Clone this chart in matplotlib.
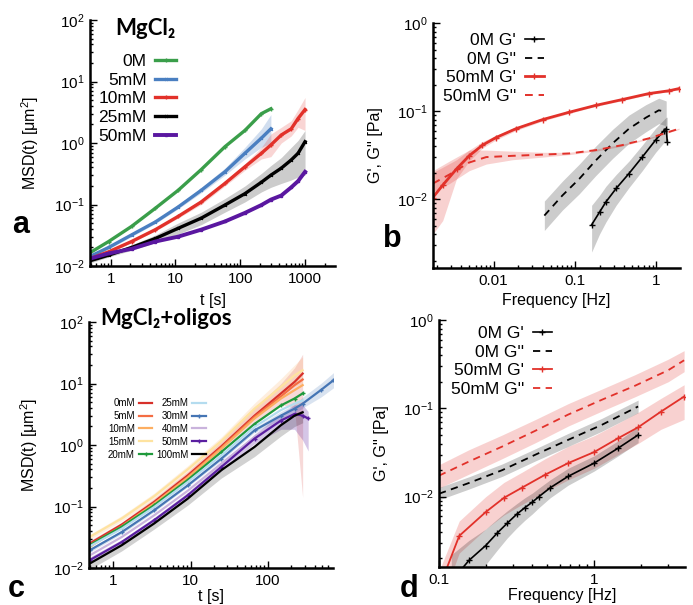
import matplotlib
matplotlib.use("Agg")
import matplotlib.pyplot as plt
from matplotlib.ticker import NullFormatter

plt.rcParams["font.family"] = ["Liberation Sans", "DejaVu Sans"]
plt.rcParams["mathtext.fontset"] = "custom"
plt.rcParams["mathtext.rm"] = "Liberation Sans"
plt.rcParams["mathtext.it"] = "Liberation Sans:italic"
plt.rcParams["mathtext.bf"] = "Liberation Sans:bold"
plt.rcParams["mathtext.default"] = "regular"

W, H = 693, 605

# ======================
# panel a : MgCl2
# ======================
t_short = [0.46, 0.93, 2.1, 4.9, 11, 25, 58, 118, 212, 297]
t_long = [0.46, 0.93, 2.1, 4.9, 11, 25, 58, 118, 212, 297, 430, 612, 780, 1000]
msd_0M = [0.016, 0.025, 0.044, 0.087, 0.17, 0.37, 0.87, 1.6, 3.0, 3.6]
msd_5mM = [0.014, 0.020, 0.032, 0.052, 0.091, 0.17, 0.34, 0.68, 1.2, 1.7]
msd_5mM_lo = [0.013, 0.019, 0.030, 0.049, 0.085, 0.155, 0.30, 0.55, 0.85, 1.0]
msd_5mM_hi = [0.015, 0.021, 0.034, 0.056, 0.098, 0.19, 0.39, 0.85, 1.7, 2.9]
msd_10mM = [0.013, 0.017, 0.025, 0.039, 0.064, 0.11, 0.22, 0.41, 0.68, 0.93, 1.35, 1.7, 2.5, 3.5]
msd_10mM_lo = [0.012, 0.016, 0.024, 0.037, 0.060, 0.10, 0.20, 0.36, 0.55, 0.60, 1.0, 1.3, 1.8, 1.6]
msd_10mM_hi = [0.014, 0.018, 0.026, 0.041, 0.068, 0.12, 0.24, 0.46, 0.85, 1.4, 1.8, 2.3, 3.5, 5.5]
msd_25mM = [0.012, 0.015, 0.020, 0.028, 0.041, 0.060, 0.098, 0.15, 0.23, 0.30, 0.39, 0.53, 0.68, 1.05]
msd_25mM_lo = [0.011, 0.014, 0.018, 0.024, 0.033, 0.047, 0.075, 0.11, 0.16, 0.19, 0.22, 0.25, 0.28, 0.30]
msd_25mM_hi = [0.013, 0.016, 0.022, 0.032, 0.050, 0.075, 0.125, 0.20, 0.32, 0.43, 0.58, 0.85, 1.1, 1.6]
msd_50mM = [0.013, 0.016, 0.019, 0.025, 0.030, 0.039, 0.053, 0.073, 0.098, 0.12, 0.14, 0.19, 0.24, 0.34]

# ======================
# panel b : G', G'' MgCl2
# ======================
f_b_gp50 = [0.00179, 0.00237, 0.0035, 0.0050, 0.0073, 0.0107, 0.0188, 0.040, 0.085, 0.18, 0.38, 0.81, 1.43, 1.9]
gp_50_b = [0.0104, 0.0144, 0.022, 0.031, 0.041, 0.050, 0.063, 0.080, 0.097, 0.116, 0.135, 0.158, 0.17, 0.18]
gp_50_b_lo = [0.0040, 0.0057, 0.017, 0.027, 0.038, 0.047, 0.060, 0.077, 0.094, 0.113, 0.131, 0.154, 0.166, 0.176]
gp_50_b_hi = [0.020, 0.023, 0.028, 0.036, 0.045, 0.053, 0.066, 0.083, 0.100, 0.119, 0.139, 0.162, 0.174, 0.185]
f_b_gpp50 = [0.00179, 0.00286, 0.0050, 0.0081, 0.0171, 0.040, 0.085, 0.18, 0.38, 0.81, 1.43, 1.9]
gpp_50_b = [0.015, 0.019, 0.026, 0.030, 0.031, 0.032, 0.033, 0.036, 0.041, 0.049, 0.058, 0.063]
gpp_50_b_lo = [0.012, 0.015, 0.021, 0.025, 0.028, 0.030, 0.032, 0.035, 0.040, 0.048, 0.057, 0.062]
gpp_50_b_hi = [0.021, 0.027, 0.036, 0.036, 0.035, 0.034, 0.034, 0.037, 0.042, 0.050, 0.059, 0.064]
f_b_gpp0 = [0.042, 0.070, 0.113, 0.18, 0.29, 0.46, 0.74, 1.07, 1.32]
gpp_0_b = [0.0065, 0.011, 0.017, 0.0275, 0.043, 0.063, 0.084, 0.102, 0.098]
gpp_0_b_lo = [0.0044, 0.0075, 0.0115, 0.0185, 0.029, 0.043, 0.058, 0.072, 0.068]
gpp_0_b_hi = [0.0095, 0.016, 0.025, 0.040, 0.062, 0.090, 0.118, 0.140, 0.130]
f_b_gp0 = [0.16, 0.20, 0.24, 0.32, 0.46, 0.67, 0.98, 1.24, 1.32, 1.36]
gp_0_b = [0.0051, 0.0071, 0.0093, 0.0132, 0.0195, 0.030, 0.047, 0.060, 0.063, 0.045]
gp_0_b_lo = [0.0025, 0.0040, 0.0055, 0.0085, 0.0135, 0.021, 0.034, 0.044, 0.046, 0.040]
gp_0_b_hi = [0.0085, 0.011, 0.014, 0.019, 0.027, 0.041, 0.064, 0.080, 0.085, 0.085]

# ======================
# panel c : MgCl2 + oligos
# ======================
t_c = [0.5, 1.3, 3.4, 9.2, 25, 67, 147, 220, 280]
t_c_30 = [0.5, 1.3, 3.4, 9.2, 25, 67, 147, 220, 280, 480, 700]
t_c_50 = [0.5, 1.3, 3.4, 9.2, 25, 67, 147, 220, 280, 330]
c_labels = ["0mM", "5mM", "10mM", "15mM", "20mM", "25mM", "30mM", "40mM", "50mM", "100mM"]
c_colors = ["#d7302a", "#f46d43", "#fdae61", "#fee3a0", "#1f9a3c",
            "#b4dcef", "#4575b4", "#c9b3dc", "#5a1fa0", "#000000"]
msd_c_0 = [0.025, 0.051, 0.119, 0.32, 0.95, 3.0, 6.9, 10.6, 14.5]
msd_c_5 = [0.0235, 0.048, 0.112, 0.30, 0.91, 2.86, 6.2, 9.4, 11.6]
msd_c_10 = [0.022, 0.047, 0.111, 0.295, 0.87, 2.7, 5.7, 7.8, 9.4]
msd_c_15 = [0.032, 0.064, 0.147, 0.40, 1.16, 3.9, 8.8, 13.6, 16.4]
msd_c_20 = [0.0235, 0.047, 0.105, 0.27, 0.77, 2.2, 4.4, 5.7, 6.9]
msd_c_25 = [0.0225, 0.0437, 0.098, 0.25, 0.68, 1.97, 3.7, 4.7, 5.3]
msd_c_30 = [0.0194, 0.0385, 0.087, 0.22, 0.60, 1.73, 3.0, 3.9, 4.7, 7.8, 11.3]
msd_c_40 = [0.016, 0.032, 0.072, 0.18, 0.50, 1.35, 2.5, 3.2, 3.0]
msd_c_50 = [0.0134, 0.0265, 0.060, 0.152, 0.44, 1.27, 2.5, 3.2, 3.0, 2.7]
msd_c_100 = [0.0118, 0.0235, 0.053, 0.134, 0.39, 0.93, 2.1, 3.0, 3.4]
msd_c_0_lo = [0.022, 0.046, 0.105, 0.28, 0.80, 2.3, 4.5, 4.0, 0.14]
msd_c_0_hi = [0.028, 0.056, 0.135, 0.37, 1.15, 4.0, 10, 18, 30]
msd_c_15_lo = [0.029, 0.058, 0.13, 0.35, 1.0, 3.2, 6.5, 9.0, 10]
msd_c_15_hi = [0.035, 0.071, 0.165, 0.46, 1.35, 4.8, 12, 20, 27]
msd_c_30_lo = [0.018, 0.036, 0.082, 0.21, 0.56, 1.6, 2.6, 3.3, 4.0, 6.0, 8.5]
msd_c_30_hi = [0.021, 0.041, 0.092, 0.23, 0.64, 1.9, 3.5, 4.6, 6.0, 10, 15]
msd_c_50_lo = [0.012, 0.024, 0.054, 0.135, 0.38, 1.05, 1.8, 1.8, 1.2, 0.8]
msd_c_50_hi = [0.015, 0.029, 0.066, 0.17, 0.50, 1.5, 3.2, 4.5, 4.5, 3.5]
msd_c_100_lo = [0.0095, 0.019, 0.043, 0.105, 0.29, 0.65, 1.4, 2.0, 2.3]
msd_c_100_hi = [0.013, 0.026, 0.058, 0.145, 0.42, 1.0, 2.3, 3.3, 3.7]

# ======================
# panel d : G', G'' oligos
# ======================
f_d_gpp50 = [0.1, 0.156, 0.256, 0.42, 0.68, 1.12, 1.83, 3.0, 3.8]
gpp_50_d = [0.0173, 0.025, 0.037, 0.056, 0.085, 0.125, 0.18, 0.27, 0.35]
gpp_50_d_lo = [0.0125, 0.018, 0.027, 0.041, 0.063, 0.093, 0.135, 0.20, 0.26]
gpp_50_d_hi = [0.023, 0.034, 0.050, 0.075, 0.113, 0.165, 0.24, 0.36, 0.45]
f_d_gpp0 = [0.1, 0.156, 0.256, 0.42, 0.68, 1.12, 1.92]
gpp_0_d = [0.0108, 0.0143, 0.020, 0.030, 0.044, 0.065, 0.105]
gpp_0_d_lo = [0.0092, 0.0122, 0.017, 0.0255, 0.037, 0.055, 0.089]
gpp_0_d_hi = [0.0127, 0.0168, 0.0235, 0.035, 0.052, 0.077, 0.124]
f_d_gp50 = [0.07, 0.135, 0.20, 0.262, 0.344, 0.485, 0.68, 1.0, 1.43, 1.92, 2.7, 3.8]
gp_50_d = [0.00018, 0.0036, 0.0067, 0.0097, 0.0127, 0.0178, 0.024, 0.032, 0.046, 0.061, 0.092, 0.136]
gp_50_d_lo = [0.0001, 0.0023, 0.0043, 0.0062, 0.0082, 0.0115, 0.0155, 0.021, 0.030, 0.040, 0.058, 0.075]
gp_50_d_hi = [0.0003, 0.0053, 0.010, 0.0145, 0.019, 0.027, 0.037, 0.049, 0.068, 0.090, 0.13, 0.185]
f_d_gp0 = [0.12, 0.156, 0.20, 0.238, 0.275, 0.316, 0.357, 0.40, 0.44, 0.52, 0.68, 1.0, 1.43, 1.92]
gp_0_d = [0.0011, 0.0019, 0.0028, 0.0039, 0.0050, 0.0063, 0.0075, 0.0087, 0.010, 0.0126, 0.017, 0.024, 0.0355, 0.050]
gp_0_d_lo = [0.0006, 0.0011, 0.0017, 0.0025, 0.0034, 0.0044, 0.0054, 0.0064, 0.0075, 0.0097, 0.0135, 0.0195, 0.029, 0.041]
gp_0_d_hi = [0.0022, 0.0032, 0.0043, 0.0056, 0.0069, 0.0083, 0.0097, 0.011, 0.0125, 0.0155, 0.021, 0.029, 0.043, 0.062]

RED = "#e2312a"
GREEN = "#3a9e4a"
BLUE = "#4a7fc1"
PURPLE = "#5a17a0"


def px_axes(fig, left, top, right, bottom):
    return fig.add_axes([left / W, 1 - bottom / H, (right - left) / W, (bottom - top) / H])


def style_ax(ax):
    ax.set_xscale("log")
    ax.set_yscale("log")
    for s in ["top", "right"]:
        ax.spines[s].set_visible(False)
    for s in ["left", "bottom"]:
        ax.spines[s].set_linewidth(1.8)
    ax.tick_params(which="both", direction="in", labelsize=11, width=1.0, pad=4)
    ax.tick_params(which="major", length=5)
    ax.tick_params(which="minor", length=2.5)
    ax.xaxis.set_minor_formatter(NullFormatter())
    ax.yaxis.set_minor_formatter(NullFormatter())


def legend_at(ax, fig, x, y, **kw):
    opts = dict(loc="upper right", bbox_to_anchor=(x / W, 1 - y / H),
                bbox_transform=fig.transFigure, frameon=False, markerfirst=False,
                borderpad=0, borderaxespad=0)
    opts.update(kw)
    return ax.legend(**opts)


fig = plt.figure(figsize=(W / 100, H / 100), dpi=100)

# ---- a ----
ax = px_axes(fig, 90, 20, 335, 266)
style_ax(ax)
ax.fill_between(t_short, msd_5mM_lo, msd_5mM_hi, color=BLUE, alpha=0.25, lw=0)
ax.fill_between(t_long, msd_10mM_lo, msd_10mM_hi, color=RED, alpha=0.2, lw=0)
ax.fill_between(t_long, msd_25mM_lo, msd_25mM_hi, color="black", alpha=0.2, lw=0)
ax.plot(t_short, msd_0M, color=GREEN, lw=2.4, marker="+", ms=2.5, label="0M")
ax.plot(t_short, msd_5mM, color=BLUE, lw=2.4, marker="x", ms=2, label="5mM")
ax.plot(t_long, msd_10mM, color=RED, lw=2.4, marker="+", ms=2.5, label="10mM")
ax.plot(t_long, msd_25mM, color="black", lw=2.4, marker="x", ms=2, label="25mM")
ax.plot(t_long, msd_50mM, color=PURPLE, lw=2.8, marker="s", ms=2, label="50mM")
ax.set_xlim(0.48, 2900)
ax.set_ylim(0.01, 100)
ax.set_xticks([1, 10, 100, 1000], labels=["1", "10", "100", "1000"])
ax.set_xlabel("t [s]", fontsize=11.5, labelpad=5)
ax.set_ylabel(r"MSD(t) [$\mu$m$^2$]", fontsize=11.5, labelpad=9)
legend_at(ax, fig, 176, 54, fontsize=12.5, handlelength=1.2, handletextpad=0.5, labelspacing=0.2)

# ---- b ----
ax = px_axes(fig, 433, 23, 680, 268)
style_ax(ax)
ax.fill_between(f_b_gp50, gp_50_b_lo, gp_50_b_hi, color=RED, alpha=0.22, lw=0)
ax.fill_between(f_b_gpp50, gpp_50_b_lo, gpp_50_b_hi, color=RED, alpha=0.22, lw=0)
ax.fill_between(f_b_gpp0, gpp_0_b_lo, gpp_0_b_hi, color="black", alpha=0.2, lw=0)
ax.fill_between(f_b_gp0, gp_0_b_lo, gp_0_b_hi, color="black", alpha=0.2, lw=0)
ax.plot(f_b_gp0, gp_0_b, color="black", lw=1.2, marker="+", ms=4, label="0M G'")
ax.plot(f_b_gpp0, gpp_0_b, color="black", lw=1.3, ls=(0, (4, 3)), label="0M G''")
ax.plot(f_b_gp50, gp_50_b, color=RED, lw=2.0, marker="+", ms=4, label="50mM G'")
ax.plot(f_b_gpp50, gpp_50_b, color=RED, lw=1.4, ls=(0, (4, 3)), label="50mM G''")
ax.set_xlim(0.0018, 1.95)
ax.set_ylim(0.00165, 1)
ax.set_xticks([0.01, 0.1, 1], labels=["0.01", "0.1", "1"])
ax.set_xlabel("Frequency [Hz]", fontsize=11.5, labelpad=4)
ax.set_ylabel("G', G'' [Pa]", fontsize=11.5, labelpad=10)
legend_at(ax, fig, 544, 33, fontsize=12.5, handlelength=1.1, handletextpad=0.5, labelspacing=0.2)

# ---- c ----
ax = px_axes(fig, 89, 322, 333, 568)
style_ax(ax)
ax.fill_between(t_c, msd_c_0_lo, msd_c_0_hi, color=c_colors[0], alpha=0.18, lw=0)
ax.fill_between(t_c, msd_c_15_lo, msd_c_15_hi, color="#fdae61", alpha=0.2, lw=0)
ax.fill_between(t_c_30, msd_c_30_lo, msd_c_30_hi, color=c_colors[6], alpha=0.2, lw=0)
ax.fill_between(t_c_50, msd_c_50_lo, msd_c_50_hi, color=c_colors[8], alpha=0.25, lw=0)
ax.fill_between(t_c, msd_c_100_lo, msd_c_100_hi, color="black", alpha=0.18, lw=0)
c_series = [(t_c, msd_c_0), (t_c, msd_c_5), (t_c, msd_c_10), (t_c, msd_c_15), (t_c, msd_c_20),
            (t_c, msd_c_25), (t_c_30, msd_c_30), (t_c, msd_c_40), (t_c_50, msd_c_50), (t_c, msd_c_100)]
c_markers = ["", "", "", "", "+", "", "+", "", "+", ""]
for (tt, yy), lab, col, mk in zip(c_series, c_labels, c_colors, c_markers):
    ax.plot(tt, yy, color=col, lw=1.6, marker=mk, ms=3, label=lab)
ax.set_xlim(0.49, 690)
ax.set_ylim(0.01, 100)
ax.set_xticks([1, 10, 100], labels=["1", "10", "100"])
ax.set_xlabel("t [s]", fontsize=11.5, labelpad=1)
ax.set_ylabel(r"MSD(t) [$\mu$m$^2$]", fontsize=11.5, labelpad=9)
legend_at(ax, fig, 206, 398, ncol=2, fontsize=7, handlelength=1.4, handletextpad=0.4,
          columnspacing=0.4, labelspacing=0.3)

# ---- d ----
ax = px_axes(fig, 439, 320, 685, 567)
style_ax(ax)
ax.fill_between(f_d_gpp50, gpp_50_d_lo, gpp_50_d_hi, color=RED, alpha=0.22, lw=0)
ax.fill_between(f_d_gpp0, gpp_0_d_lo, gpp_0_d_hi, color="black", alpha=0.2, lw=0)
ax.fill_between(f_d_gp50, gp_50_d_lo, gp_50_d_hi, color=RED, alpha=0.22, lw=0)
ax.fill_between(f_d_gp0, gp_0_d_lo, gp_0_d_hi, color="black", alpha=0.2, lw=0)
ax.plot(f_d_gp0, gp_0_d, color="black", lw=1.2, marker="+", ms=4, label="0M G'")
ax.plot(f_d_gpp0, gpp_0_d, color="black", lw=1.3, ls=(0, (4, 3)), label="0M G''")
ax.plot(f_d_gp50, gp_50_d, color=RED, lw=1.3, marker="+", ms=4, label="50mM G'")
ax.plot(f_d_gpp50, gpp_50_d, color=RED, lw=1.3, ls=(0, (4, 3)), label="50mM G''")
ax.set_xlim(0.1, 3.85)
ax.set_ylim(0.0016, 1)
ax.set_xticks([0.1, 1], labels=["0.1", "1"])
ax.set_xlabel("Frequency [Hz]", fontsize=11.5, labelpad=1)
ax.set_ylabel("G', G'' [Pa]", fontsize=11.5, labelpad=10)
legend_at(ax, fig, 552, 326, fontsize=12.5, handlelength=1.1, handletextpad=0.5, labelspacing=0.2)

# ---- titles and panel letters ----
title_font = ["Lato", "DejaVu Sans"]
fig.text(115 / W, 1 - 35 / H, "MgCl₂", fontsize=16, fontweight="bold", family=title_font, va="baseline")
fig.text(100 / W, 1 - 325 / H, "MgCl₂+oligos", fontsize=16, fontweight="bold", family=title_font, va="baseline")
for letter, x, y in [("a", 12, 233), ("b", 383, 247), ("c", 8, 597), ("d", 400, 597)]:
    fig.text(x / W, 1 - y / H, letter, fontsize=22, fontweight="bold", va="baseline")

fig.savefig("out.png", dpi=100)
